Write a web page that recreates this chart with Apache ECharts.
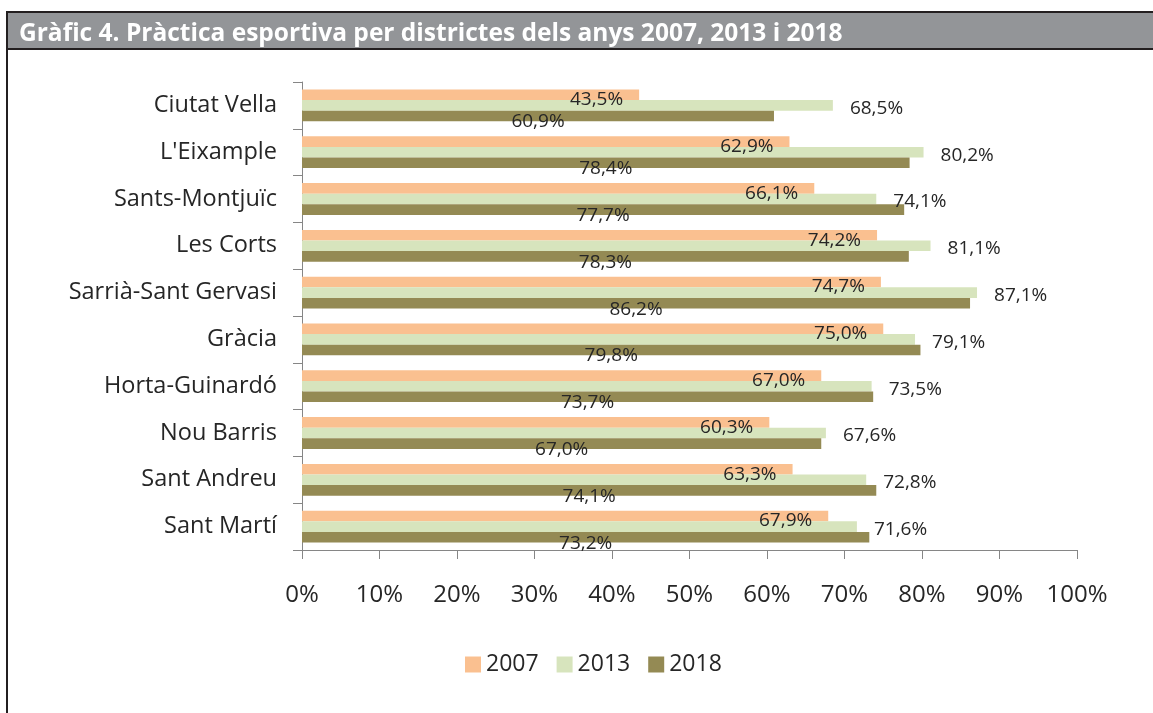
<!DOCTYPE html>
<html>
<head>
<meta charset="utf-8">
<script src="https://cdn.jsdelivr.net/npm/echarts@6/dist/echarts.min.js"></script>
<style>
html,body{margin:0;padding:0;background:#fff;}
#c{width:1153px;height:713px;}
</style>
</head>
<body>
<div id="c"></div>
<script>
const titleText = "Gràfic 4. Pràctica esportiva per districtes dels anys 2007, 2013 i 2018";
const categories = ["Ciutat Vella","L'Eixample","Sants-Montjuïc","Les Corts","Sarrià-Sant Gervasi","Gràcia","Horta-Guinardó","Nou Barris","Sant Andreu","Sant Martí"];
const seriesNames = ["2007","2013","2018"];
const values2007 = [43.5,62.9,66.1,74.2,74.7,75.0,67.0,60.3,63.3,67.9];
const values2013 = [68.5,80.2,74.1,81.1,87.1,79.1,73.5,67.6,72.8,71.6];
const values2018 = [60.9,78.4,77.7,78.3,86.2,79.8,73.7,67.0,74.1,73.2];
const colors = ["#FAC090","#D7E4BD","#948A54"];

const fmt = p => p.value.toFixed(1).replace('.', ',') + '%';
const labelBase = {show:true, formatter:fmt, color:'#262626', fontFamily:'Open Sans', fontSize:19};

const chart = echarts.init(document.getElementById('c'), null, {renderer:'canvas'});
chart.setOption({
  animation:false,
  backgroundColor:'#fff',
  title:{
    text:titleText, left:14, top:12,
    textStyle:{color:'#fff', fontFamily:'Open Sans', fontWeight:'bold', fontSize:24.5, lineHeight:35}
  },
  graphic:[
    {type:'rect', shape:{x:8, y:11, width:1145, height:39}, style:{fill:'#231F20'}, z:-10},
    {type:'rect', shape:{x:8, y:13, width:1145, height:35}, style:{fill:'#939598'}, z:-9},
    {type:'rect', shape:{x:6, y:11, width:2, height:702}, style:{fill:'#231F20'}, z:-8}
  ],
  legend:{
    data:seriesNames, left:460, top:648, itemWidth:16, itemHeight:16, itemGap:18,
    icon:'rect',
    textStyle:{color:'#262626', fontFamily:'Open Sans', fontSize:23}
  },
  grid:{left:302, right:76, top:82, bottom:163, containLabel:false},
  xAxis:{
    type:'value', min:0, max:100, interval:10,
    axisLine:{show:true, lineStyle:{color:'#868686', width:1}},
    axisTick:{show:true, length:9, lineStyle:{color:'#868686'}},
    splitLine:{show:false},
    axisLabel:{formatter:'{value}%', margin:33, color:'#262626', fontFamily:'Open Sans', fontSize:24}
  },
  yAxis:{
    type:'category', data:categories, inverse:true,
    axisLine:{show:true, lineStyle:{color:'#868686', width:1}},
    axisTick:{show:true, length:9, lineStyle:{color:'#868686'}},
    axisLabel:{margin:25, color:'#262626', fontFamily:'Open Sans', fontSize:23.5}
  },
  series:[
    {name:'2007', type:'bar', data:values2007, barGap:'0%', barCategoryGap:'32%',
     itemStyle:{color:colors[0]},
     label:Object.assign({}, labelBase, {position:'insideRight', distance:16, offset:[0,5]})},
    {name:'2013', type:'bar', data:values2013, barGap:'0%', barCategoryGap:'32%',
     itemStyle:{color:colors[1]},
     label:Object.assign({}, labelBase, {position:'right', distance:17, offset:[0,3]})},
    {name:'2018', type:'bar', data:values2018, barGap:'0%', barCategoryGap:'32%',
     itemStyle:{color:colors[2]},
     label:Object.assign({}, labelBase, {position:'inside', offset:[0,6]})}
  ]
});
</script>
</body>
</html>
